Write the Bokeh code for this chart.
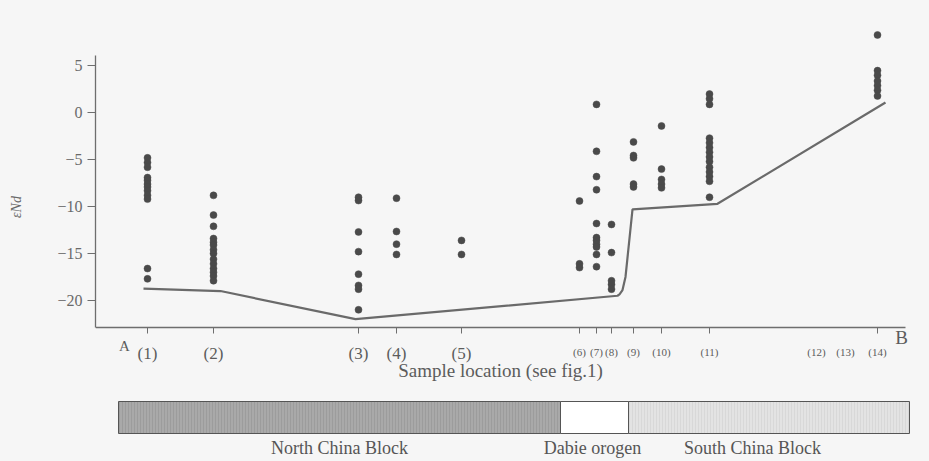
from bokeh.plotting import figure
from bokeh.models import Range1d, FixedTicker
from bokeh.layouts import column
from bokeh.core.properties import value
from bokeh.embed import file_html
from bokeh.resources import INLINE

# ---------------- data ----------------
site_labels = ["(1)", "(2)", "(3)", "(4)", "(5)", "(6)", "(7)", "(8)", "(9)", "(10)",
               "(11)", "(12)", "(13)", "(14)"]
site_x = [52, 118, 263, 301, 366, 484, 501, 516, 538, 566, 614, 721, 750, 782]
site_has_tick = [1, 1, 1, 1, 1, 1, 1, 1, 1, 1, 1, 0, 0, 1]

s1 = [-4.8, -5.3, -5.8, -6.9, -7.2, -7.6, -7.9, -8.3, -8.8, -9.2, -16.6, -17.7]
s2 = [-8.8, -10.9, -12.1, -13.4, -13.8, -14.1, -14.6, -15.0, -15.6, -16.1, -16.6, -17.0, -17.4, -17.9]
s3 = [-9.0, -9.35, -12.7, -14.8, -17.2, -18.4, -18.8, -21.0]
s4 = [-9.1, -12.65, -14.0, -15.1]
s5 = [-13.6, -15.1]
s6 = [-9.4, -16.1, -16.5]
s7 = [0.9, -4.1, -6.8, -8.2, -11.8, -13.3, -13.6, -14.0, -14.3, -15.1, -16.4]
s8 = [-11.9, -14.9, -17.9, -18.3, -18.8]
s9 = [-3.1, -4.55, -4.8, -7.6, -7.9]
s10 = [-1.4, -6.0, -7.1, -7.6, -8.0]
s11 = [2.0, 1.5, 0.9, -2.7, -3.2, -3.7, -4.2, -4.7, -5.2, -5.8, -6.3, -6.8, -7.3, -9.0]
s12 = []
s13 = []
s14 = [8.3, 4.5, 4.0, 3.4, 2.9, 2.4, 1.8]
site_values = [s1, s2, s3, s4, s5, s6, s7, s8, s9, s10, s11, s12, s13, s14]

# lower-bound line
line_x = [48, 125, 260, 522, 524, 527, 530, 537, 622, 790]
line_y = [-18.75, -19.0, -22.0, -19.5, -19.35, -18.9, -17.5, -10.3, -9.7, 1.1]

y_ticks = [-20, -15, -10, -5, 0, 5]
y_tick_labels = ["\u221220", "\u221215", "\u221210", "\u22125", "0", "5"]

block_names = ["North China Block", "Dabie orogen", "South China Block"]
block_start = [23, 465, 533]
block_end = [465, 533, 814]
block_label_x = [244, 497, 657]

# ---------------- styles ----------------
BG = "#f6f6f6"
TXT = "#5c5c5c"
AX = "#6e6e6e"
FONT = "Liberation Serif"
block_fill = ["#a9a9a9", "#ffffff", "#e3e3e3"]
block_hatch = ["#8a8a8a", None, "#c8c8c8"]

Y_BOTTOM = -22.9   # where the x axis sits
X_END = 810        # right end of the x axis line

# ---------------- main plot ----------------
p = figure(width=929, height=385,
           x_range=Range1d(0, 815), y_range=Range1d(-29.07, 8.99),
           output_backend="svg", toolbar_location=None,
           min_border_left=95, min_border_right=19,
           min_border_top=28, min_border_bottom=0)
p.background_fill_color = BG
p.border_fill_color = BG
p.outline_line_color = None
p.grid.visible = False

xs, ys = [], []
for x, vals in zip(site_x, site_values):
    for v in vals:
        xs.append(x)
        ys.append(v)
p.scatter(xs, ys, size=7, fill_color="#4a4a4a", line_color="#4a4a4a", line_width=0.5)

p.line(line_x, line_y, line_color="#6a6a6a", line_width=2.2)

# x axis (fixed at the bottom of the data area)
big_idx = list(range(5))
small_idx = list(range(5, 14))
major = [site_x[i] for i in big_idx]
minor = [site_x[i] for i in small_idx if site_has_tick[i]]
xa = p.xaxis[0]
xa.fixed_location = Y_BOTTOM
xa.bounds = (0, X_END)
xa.ticker = FixedTicker(ticks=major, minor_ticks=minor)
xa.major_label_overrides = {site_x[i]: site_labels[i] for i in big_idx}
xa.axis_line_color = AX
xa.axis_line_width = 1.3
xa.major_tick_line_color = AX
xa.minor_tick_line_color = AX
xa.major_tick_in = 0
xa.major_tick_out = 6
xa.minor_tick_in = 0
xa.minor_tick_out = 6
xa.major_label_standoff = 10
xa.major_label_text_font = FONT
xa.major_label_text_font_size = "17px"
xa.major_label_text_color = TXT
xa.axis_label = "Sample location (see fig.1)"
xa.axis_label_text_font = FONT
xa.axis_label_text_font_size = "19px"
xa.axis_label_text_font_style = "normal"
xa.axis_label_text_color = TXT
xa.axis_label_standoff = -6

# y axis
ya = p.yaxis[0]
ya.ticker = FixedTicker(ticks=y_ticks)
ya.major_label_overrides = dict(zip(y_ticks, y_tick_labels))
ya.bounds = (Y_BOTTOM, 6.1)
ya.axis_line_color = AX
ya.axis_line_width = 1.3
ya.major_tick_line_color = AX
ya.minor_tick_line_color = None
ya.major_tick_in = 0
ya.major_tick_out = 8
ya.major_label_standoff = 5
ya.major_label_text_font = FONT
ya.major_label_text_font_size = "16px"
ya.major_label_text_color = "#6a6a6a"
ya.axis_label = "\u03b5Nd"
ya.axis_label_text_font = FONT
ya.axis_label_text_font_size = "14px"
ya.axis_label_text_font_style = "italic"
ya.axis_label_text_color = "#6a6a6a"
ya.axis_label_standoff = 30

# small site labels (6)-(14)
p.text(x=[site_x[i] for i in small_idx], y=[-25.5] * len(small_idx),
       text=[site_labels[i] for i in small_idx],
       text_font=value(FONT), text_font_size="11px", text_color=TXT,
       text_align="center", text_baseline="middle")

p.text(x=[29], y=[-24.9], text=["A"], text_font=value(FONT), text_font_size="15px",
       text_color=TXT, text_align="center", text_baseline="middle")
p.text(x=[806], y=[-23.9], text=["B"], text_font=value(FONT), text_font_size="19px",
       text_color=TXT, text_align="center", text_baseline="middle")

# ---------------- block bar ----------------
pb = figure(width=929, height=76,
            x_range=Range1d(0, 815), y_range=Range1d(0, 76),
            output_backend="svg", toolbar_location=None,
            x_axis_type=None, y_axis_type=None,
            min_border_left=95, min_border_right=19,
            min_border_top=0, min_border_bottom=0)
pb.background_fill_color = BG
pb.border_fill_color = BG
pb.outline_line_color = None
pb.grid.visible = False

for s, e, fc, hc in zip(block_start, block_end, block_fill, block_hatch):
    kw = dict(left=[s], right=[e], bottom=[28], top=[60],
              fill_color=fc, line_color="#555555", line_width=1)
    if hc:
        kw.update(hatch_pattern="vertical_line", hatch_color=hc,
                  hatch_scale=3, hatch_weight=0.6, hatch_alpha=0.7)
    pb.quad(**kw)

pb.text(x=block_label_x, y=[14, 14, 14], text=block_names,
        text_font=value(FONT), text_font_size="18px", text_color="#555555",
        text_align="center", text_baseline="middle")

layout = column(p, pb, spacing=0)

html = file_html(layout, INLINE)
html = html.replace("<head>", "<head><style>body{background:#f6f6f6;}</style>", 1)
open("out.html", "w").write(html)
